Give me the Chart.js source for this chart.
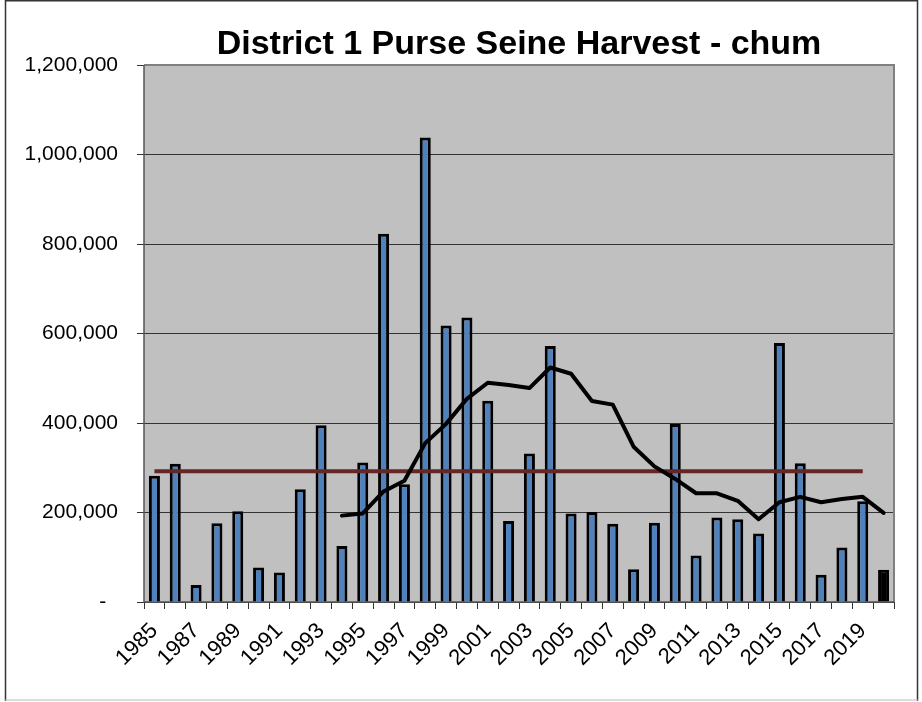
<!DOCTYPE html>
<html>
<head>
<meta charset="utf-8">
<script src="https://cdn.jsdelivr.net/npm/chart.js@4/dist/chart.umd.min.js"></script>
<style>
  html, body { margin: 0; padding: 0; background: #fff; }
  #wrap { width: 922px; height: 702px; position: relative; }
</style>
</head>
<body>
<div id="wrap"><canvas id="harvestChart"></canvas></div>
<script>
// Chart values
const years = ['1985','1986','1987','1988','1989','1990','1991','1992','1993','1994',
  '1995','1996','1997','1998','1999','2000','2001','2002','2003','2004',
  '2005','2006','2007','2008','2009','2010','2011','2012','2013','2014',
  '2015','2016','2017','2018','2019','2020'];

const harvest = [282000, 309000, 38000, 176000, 203000, 77000, 66000, 252000, 395000, 125000,
  312000, 823000, 263000, 1038000, 618000, 636000, 450000, 181000, 332000, 572000,
  198000, 201000, 175000, 73000, 177000, 398000, 104000, 189000, 185000, 153000,
  579000, 310000, 61000, 122000, 225000, 72000];

// ten year running average (starts 1994)
const tenYearAvg = [null, null, null, null, null, null, null, null, null, 193000,
  198000, 247000, 271000, 355000, 398000, 454000, 490000, 485000, 478000, 524000,
  510000, 449000, 441000, 347000, 303000, 275000, 243000, 243000, 226000, 185000,
  223000, 235000, 223000, 230000, 235000, 199000];

// long term average, 1985-2019
const longTermAvg = [292000, 292000, 292000, 292000, 292000, 292000, 292000, 292000, 292000, 292000,
  292000, 292000, 292000, 292000, 292000, 292000, 292000, 292000, 292000, 292000,
  292000, 292000, 292000, 292000, 292000, 292000, 292000, 292000, 292000, 292000,
  292000, 292000, 292000, 292000, 292000, null];

const yTicks = [0, 200000, 400000, 600000, 800000, 1000000, 1200000];

const barColors = years.map((y, i) => i === years.length - 1 ? '#000000' : '#4F81BD');

const FONT = "'Liberation Sans', Arial, sans-serif";

// grey plot area, its border and the outer frame
const plotArea = {
    id: 'plotArea',
    beforeDraw(chart) {
        const { ctx, chartArea: a } = chart;
        ctx.save();
        ctx.fillStyle = '#C0C0C0';
        ctx.fillRect(a.left, a.top, a.right - a.left, a.bottom - a.top);
        ctx.restore();
    },
    beforeDatasetsDraw(chart) {
        const { ctx, chartArea: a } = chart;
        ctx.save();
        ctx.strokeStyle = '#808080';
        ctx.lineWidth = 2;
        ctx.beginPath();
        ctx.moveTo(a.left, a.top);
        ctx.lineTo(a.right, a.top);
        ctx.lineTo(a.right, a.bottom);
        ctx.stroke();
        ctx.strokeStyle = '#555';
        ctx.lineWidth = 1.5;
        ctx.beginPath();
        ctx.moveTo(a.left, a.top);
        ctx.lineTo(a.left, a.bottom);
        ctx.lineTo(a.right, a.bottom);
        ctx.stroke();
        ctx.restore();
    },
    afterDraw(chart) {
        const ctx = chart.ctx;
        ctx.save();
        ctx.lineWidth = 1.5;
        ctx.strokeStyle = '#333';
        ctx.beginPath();
        ctx.moveTo(5.5, 701);
        ctx.lineTo(5.5, 0.75);
        ctx.lineTo(917.5, 0.75);
        ctx.lineTo(917.5, 701);
        ctx.stroke();
        ctx.strokeStyle = '#d0d0d0';
        ctx.beginPath();
        ctx.moveTo(5.5, 700);
        ctx.lineTo(917.5, 700);
        ctx.stroke();
        ctx.restore();
    }
};

const ctx = document.getElementById('harvestChart').getContext('2d');
const harvestChart = new Chart(ctx, {
    type: 'bar',
    data: {
        labels: years,
        datasets: [{
            type: 'line',
            label: 'Average',
            data: longTermAvg,
            borderColor: '#652626',
            borderWidth: 4,
            pointRadius: 0,
            tension: 0,
            order: 1
        }, {
            type: 'line',
            label: '10-yr average',
            data: tenYearAvg,
            borderColor: '#000000',
            borderWidth: 4,
            pointRadius: 0,
            tension: 0,
            borderJoinStyle: 'round',
            borderCapStyle: 'round',
            order: 0
        }, {
            label: 'Harvest',
            data: harvest,
            backgroundColor: barColors,
            borderColor: '#000000',
            borderWidth: 3,
            categoryPercentage: 1,
            barPercentage: 0.53,
            order: 2
        }]
    },
    options: {
        responsive: true,
        maintainAspectRatio: false,
        animation: false,
        layout: {
            autoPadding: false,
            padding: { left: 5, right: 28, top: 0, bottom: 0 }
        },
        plugins: {
            legend: { display: false },
            tooltip: { enabled: false },
            title: {
                display: true,
                fullSize: false,
                text: 'District 1 Purse Seine Harvest - chum',
                color: '#000',
                font: { family: FONT, size: 34, weight: 'bold', lineHeight: 1.2 },
                padding: { top: 24, bottom: 0.2 }
            }
        },
        scales: {
            x: {
                grid: {
                    display: true,
                    drawOnChartArea: false,
                    drawTicks: true,
                    tickLength: 7,
                    color: '#333',
                    offset: true
                },
                border: { display: false },
                ticks: {
                    autoSkip: false,
                    minRotation: 45,
                    maxRotation: 45,
                    padding: 9,
                    color: '#000',
                    font: { family: FONT, size: 22 },
                    callback: function(value, index) {
                        return index % 2 === 0 ? years[index] : '';
                    }
                },
                afterFit: function(scale) { scale.height = 100; }
            },
            y: {
                min: 0,
                max: 1200000,
                afterBuildTicks: function(scale) {
                    scale.ticks = yTicks.map(v => ({ value: v }));
                },
                grid: {
                    color: '#333',
                    lineWidth: 1,
                    drawTicks: true,
                    tickLength: 7
                },
                border: { display: false },
                ticks: {
                    padding: 19,
                    color: '#000',
                    font: { family: FONT, size: 21 },
                    callback: function(value) {
                        return value === 0 ? '-  ' : value.toLocaleString('en-US');
                    }
                },
                afterFit: function(scale) { scale.width = 139; }
            }
        }
    },
    plugins: [plotArea]
});
</script>
</body>
</html>
